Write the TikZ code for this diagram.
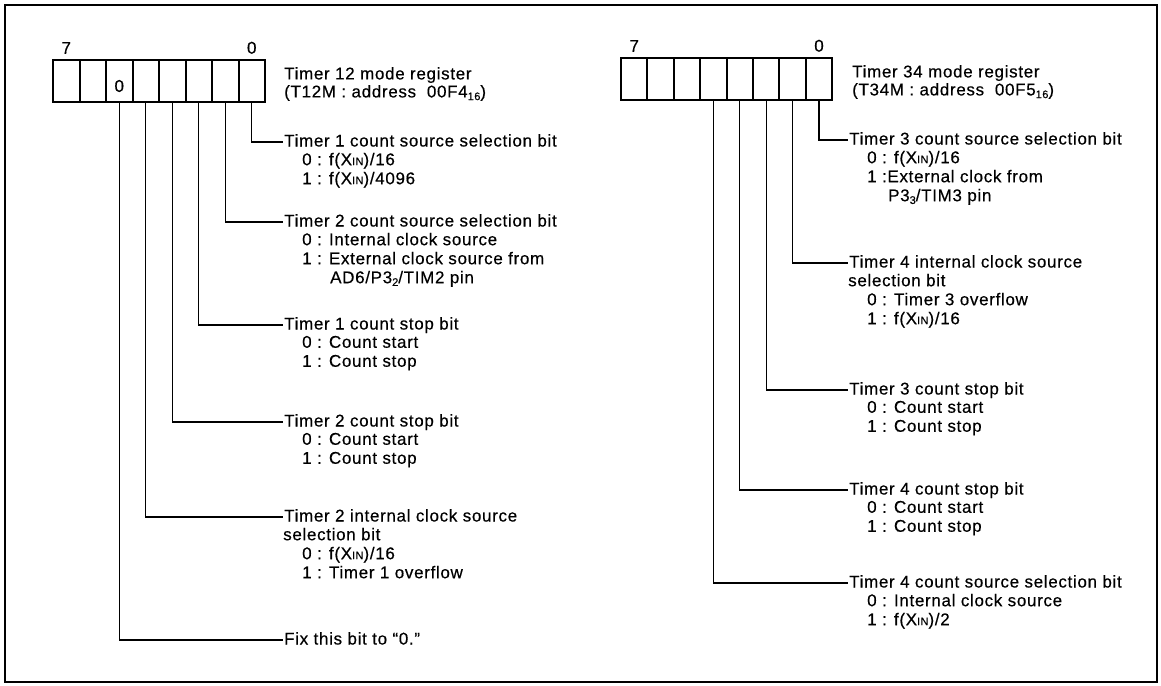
\documentclass[tikz,border=0pt]{standalone}
\usepackage{fontspec}
\setmainfont[LetterSpace=4,FakeBold=0.4]{Liberation Sans}
\usetikzlibrary{positioning}

\newcommand{\xin}{X{\fontsize{11}{10}\selectfont IN}}
\newcommand{\lowsub}[1]{\raisebox{-0.3ex}{\fontsize{11}{10}\selectfont #1}}
\newcommand{\opt}{\hspace*{19pt}}

\begin{document}
\begin{tikzpicture}[
  x=1pt, y=-1pt,
  every node/.style={font=\fontsize{17}{19}\selectfont},
  bitcell/.style={draw, line width=2pt, minimum width=26.5pt, minimum height=42pt,
    inner sep=0pt, outer sep=0pt},
  idx/.style={inner sep=1pt},
  regtitle/.style={anchor=west, align=left, inner sep=1pt, font=\fontsize{17}{18}\selectfont},
  bittitle/.style={anchor=west, inner sep=1pt, text height=12pt, text depth=3pt},
  bitdesc/.style={align=left, inner sep=0pt},
  lead/.style={line width=1.2pt},
]
\useasboundingbox (0,0) rectangle (1161,685);
\draw[line width=2pt] (5,5) rectangle (1157,682);

% Timer 12 mode register
\foreach \b [count=\k from 0] in {7,...,0}
  \node[bitcell] (l\b) at ({66.25+26.5*\k},81) {};
\node[idx, above=5pt of l7] (l7n) {7};
\node[idx, above=5pt of l0] (l0n) {0};
\node (fix0) at ([yshift=-5pt]l5.center) {0};
\node[regtitle] (lreg) at (283,84) {Timer 12 mode register\\(T12M : address \ 00F4\lowsub{16})};

\node[bittitle] (l0t) at (283,142) {Timer 1 count source selection bit};
\node[bitdesc, below right=2pt and 0pt of l0t.south west] (l0d)
  {\opt 0 : f(\xin)/16\\ \opt 1 : f(\xin)/4096};
\node[bittitle] (l1t) at (283,222) {Timer 2 count source selection bit};
\node[bitdesc, below right=2pt and 0pt of l1t.south west] (l1d)
  {\opt 0 : Internal clock source\\ \opt 1 : External clock source from\\
   \opt\hspace*{28pt}AD6/P3\lowsub{2}/TIM2 pin};
\node[bittitle] (l2t) at (283,325) {Timer 1 count stop bit};
\node[bitdesc, below right=2pt and 0pt of l2t.south west] (l2d)
  {\opt 0 : Count start\\ \opt 1 : Count stop};
\node[bittitle] (l3t) at (283,422) {Timer 2 count stop bit};
\node[bitdesc, below right=2pt and 0pt of l3t.south west] (l3d)
  {\opt 0 : Count start\\ \opt 1 : Count stop};
\node[bittitle] (l4t) at (283,517) {Timer 2 internal clock source};
\node[bitdesc, below right=2pt and 0pt of l4t.south west] (l4d)
  {selection bit\\ \opt 0 : f(\xin)/16\\ \opt 1 : Timer 1 overflow};
\node[bittitle] (l5t) at (283,640) {Fix this bit to “0.”};

\foreach \b in {0,...,5}
  \draw[lead] (l\b.south) |- (l\b t.west);

% Timer 34 mode register
\foreach \b [count=\k from 0] in {7,...,0}
  \node[bitcell] (r\b) at ({634.2+26.4*\k},79) {};
\node[idx, above=5pt of r7] (r7n) {7};
\node[idx, above=5pt of r0] (r0n) {0};
\node[regtitle] (rreg) at (851,82) {Timer 34 mode register\\(T34M : address \ 00F5\lowsub{16})};

\node[bittitle] (r0t) at (848,140) {Timer 3 count source selection bit};
\node[bitdesc, below right=2pt and 0pt of r0t.south west] (r0d)
  {\opt 0 : f(\xin)/16\\ \opt 1 :External clock from\\
   \opt\hspace*{21pt}P3\lowsub{3}/TIM3 pin};
\node[bittitle] (r1t) at (848,263) {Timer 4 internal clock source};
\node[bitdesc, below right=2pt and 0pt of r1t.south west] (r1d)
  {selection bit\\ \opt 0 : Timer 3 overflow\\ \opt 1 : f(\xin)/16};
\node[bittitle] (r2t) at (848,390) {Timer 3 count stop bit};
\node[bitdesc, below right=2pt and 0pt of r2t.south west] (r2d)
  {\opt 0 : Count start\\ \opt 1 : Count stop};
\node[bittitle] (r3t) at (848,490) {Timer 4 count stop bit};
\node[bitdesc, below right=2pt and 0pt of r3t.south west] (r3d)
  {\opt 0 : Count start\\ \opt 1 : Count stop};
\node[bittitle] (r4t) at (848,583) {Timer 4 count source selection bit};
\node[bitdesc, below right=2pt and 0pt of r4t.south west] (r4d)
  {\opt 0 : Internal clock source\\ \opt 1 : f(\xin)/2};

\foreach \b in {0,...,4}
  \draw[lead] (r\b.south) |- (r\b t.west);
\end{tikzpicture}
\end{document}
